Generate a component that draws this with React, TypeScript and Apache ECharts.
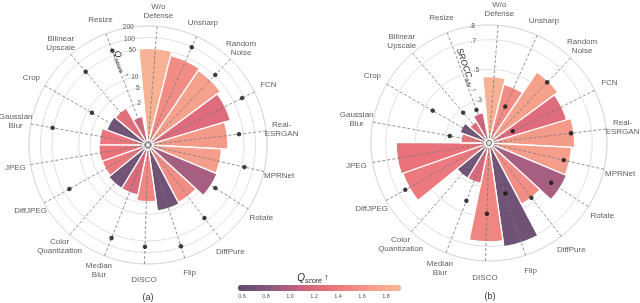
import React, { useEffect, useRef } from 'react';
import * as echarts from 'echarts';

const categories = [
  'W/o\nDefense', 'Unsharp', 'Random\nNoise', 'FCN', 'Real-\nESRGAN', 'MPRNet', 'Rotate',
  'DiffPure', 'Flip', 'DISCO', 'Median\nBlur', 'Color\nQuantization', 'DiffJPEG', 'JPEG',
  'Gaussian\nBlur', 'Crop', 'Bilinear\nUpscale', 'Resize',
];
const qScore = [1.85, 1.55, 1.7, 1.25, 1.65, 1.68, 0.95, 1.55, 0.68, 1.5, 1.22, 0.7, 1.4, 1.35, 1.38, 0.68, 1.3, 1.15];

const barA = [52, 40, 35, 27.6, 19, 13, 14, 7.8, 8.5, 4.7, 3.35, 3.3, 2.9, 3.0, 2.9, 2.2, 2.05, 1.37];
const dotA: (number | null)[] = [null, 98, 53.7, 86.9, 38.5, 59.7, 19.1, 40, 94, 71, 63.5, null, 35, null, 53, 7.6, 50.5, 67];
const barB = [0.45, 0.41, 0.58, 0.55, 0.58, 0.56, 0.57, 0.47, 0.71, 0.67, 0.28, 0.28, 0.62, 0.63, 0.19, 0.21, 0.17, 0.21];
const dotB: (number | null)[] = [null, 0.27, 0.57, 0.18, 0.56, 0.52, 0.5, 0.47, 0.36, 0.48, 0.42, null, 0.65, null, 0.27, 0.44, 0.27, 0.24];

const ticksA = [1, 2, 5, 10, 50, 100, 200];
const ticksB = [0.3, 0.5, 0.7, 0.8];
const colorbarTicks = [0.6, 0.8, 1.0, 1.2, 1.4, 1.6, 1.8];
const qRange = [0.567, 1.925];
const cmap = ['#5b4d6f', '#7d557a', '#a95e80', '#d2667d', '#e9717b', '#f28b84', '#f5a58d', '#f8b898'];

const LIN_T = 2;
const LIN_S = 1 / (1 - 1 / 10);
const symlog = (v: number) => (v <= LIN_T ? v * LIN_S : LIN_T * (LIN_S + Math.log10(v / LIN_T)));

const FONT = '"Liberation Sans", Arial, sans-serif';
const START = 95.45;
const SPAN = 354.6;

export default function App() {
  const ref = useRef<HTMLDivElement>(null);
  useEffect(() => {
    const chart = echarts.init(ref.current!, null, { renderer: 'svg' });
    const maxA = symlog(ticksA[ticksA.length - 1]);
    const maxB = ticksB[ticksB.length - 1];
    const labelRA = (maxA * 134.5) / 119;
    const labelRB = (maxB * 134.5) / 118;
    const fmtA = (v: number) => {
      const t = ticksA.find((t) => Math.abs(symlog(t) - v) < 1e-6);
      return t === undefined ? '' : String(t);
    };
    const fmtB = (v: number) => v.toFixed(1).replace(/^0/, '');

    const fgAngle = (i: number) => ({
      polarIndex: i, type: 'category', data: categories, startAngle: START, endAngle: START - SPAN,
      clockwise: true, boundaryGap: true, axisLine: { show: false },
      axisTick: { show: false, alignWithLabel: true }, axisLabel: { show: false },
      splitLine: { show: true, lineStyle: { color: '#787878', width: 0.8, type: [3, 2] } }, z: 10,
    });
    const bgAngle = (i: number) => ({
      polarIndex: i, type: 'value', min: 0, max: 360, startAngle: START, clockwise: true,
      axisLine: { show: true, lineStyle: { color: '#d8d8d8', width: 0.8 } },
      axisTick: { show: false }, axisLabel: { show: false }, splitLine: { show: false }, z: 0,
    });
    const bgRadius = (i: number, max: number, ticks: number[], fmt: (v: number) => string) => ({
      polarIndex: i, type: 'value', min: 0, max,
      axisLine: { show: false }, axisTick: { show: false, customValues: ticks },
      axisLabel: { customValues: ticks, formatter: fmt, fontSize: 6.5, color: '#555', margin: 3, fontFamily: FONT },
      splitLine: { show: true, lineStyle: { color: '#d8d8d8', width: 0.8 } }, z: 0,
    });
    const barSeries = (p: number, vals: number[], tf: (v: number) => number) => ({
      type: 'bar', coordinateSystem: 'polar', polarIndex: p,
      data: vals.map((v, i) => [tf(v), i, qScore[i]]), encode: { radius: 0, angle: 1 },
      barCategoryGap: '0%', itemStyle: { borderColor: '#ffffff', borderWidth: 1.3 }, z: 2, silent: true,
    });
    const dotSeries = (p: number, vals: (number | null)[], tf: (v: number) => number) => ({
      type: 'scatter', coordinateSystem: 'polar', polarIndex: p,
      data: vals.flatMap((v, i) => (v == null ? [] : [[tf(v), i]])), encode: { radius: 0, angle: 1 },
      symbolSize: 4.5, itemStyle: { color: '#111' }, z: 12, silent: true, clip: false,
    });
    const centerSeries = (p: number) => ({
      type: 'scatter', coordinateSystem: 'polar', polarIndex: p, data: [[0, 0]], encode: { radius: 0, angle: 1 },
      symbolSize: 5, itemStyle: { color: '#ffffff', borderColor: '#555', borderWidth: 1 }, z: 13, silent: true, clip: false,
    });
    const labelSeries = (p: number, r: number) => ({
      type: 'scatter', coordinateSystem: 'polar', polarIndex: p,
      data: categories.map((c, i) => [r, i]), encode: { radius: 0, angle: 1 }, symbolSize: 0, clip: false, silent: true,
      itemStyle: { color: '#333' },
      label: { show: true, position: 'inside', formatter: (q: any) => categories[q.dataIndex], fontSize: 8, lineHeight: 9, color: '#333', textBorderWidth: 0, fontFamily: FONT },
    });
    const titleRich = (main: string, sub: string, size: number) => ({
      text: `{q|${main}}{s|${sub}}{a| ↑}`,
      rich: {
        q: { fontSize: size, fontStyle: 'italic', lineHeight: size + 3, verticalAlign: 'middle', fontFamily: FONT, fill: '#222' },
        s: { fontSize: size * 0.68, fontStyle: 'italic', lineHeight: size * 0.5, verticalAlign: 'bottom', fontFamily: FONT, fill: '#222' },
        a: { fontSize: size * 0.9, lineHeight: size + 3, verticalAlign: 'middle', fontFamily: FONT, fill: '#222' },
      },
      align: 'center', verticalAlign: 'middle',
    });

    chart.setOption({
      animation: false,
      textStyle: { fontFamily: FONT },
      polar: [
        { center: [148, 145], radius: [0, 119] },
        { center: [489, 143], radius: [0, 118] },
        { center: [148, 145], radius: [0, 119] },
        { center: [489, 143], radius: [0, 118] },
      ],
      angleAxis: [fgAngle(0), fgAngle(1), bgAngle(2), bgAngle(3)],
      radiusAxis: [
        { polarIndex: 0, type: 'value', min: 0, max: maxA, show: false },
        { polarIndex: 1, type: 'value', min: 0, max: maxB, show: false },
        bgRadius(2, maxA, ticksA.map(symlog), fmtA),
        bgRadius(3, maxB, ticksB, fmtB),
      ],
      grid: { left: 238, top: 285, width: 163, height: 6, show: false },
      xAxis: {
        type: 'value', min: qRange[0], max: qRange[1],
        axisLine: { show: false }, axisTick: { show: false, customValues: colorbarTicks },
        axisLabel: { customValues: colorbarTicks, formatter: (v: number) => v.toFixed(1), fontSize: 5.5, color: '#555', margin: 1.5, fontFamily: FONT },
        splitLine: { show: false },
      },
      yAxis: { type: 'value', show: false, min: 0, max: 1 },
      visualMap: {
        type: 'continuous', min: qRange[0], max: qRange[1], dimension: 2, seriesIndex: [0, 4],
        orient: 'horizontal', left: 238, top: 285, itemWidth: 6, itemHeight: 163, padding: 0,
        calculable: false, text: null, showLabel: false, inRange: { color: cmap },
      },
      series: [
        barSeries(0, barA, symlog),
        dotSeries(0, dotA, symlog),
        centerSeries(0),
        labelSeries(0, labelRA),
        barSeries(1, barB, (v) => v),
        dotSeries(1, dotB, (v) => v),
        centerSeries(1),
        labelSeries(1, labelRB),
        { type: 'line', data: [], xAxisIndex: 0, yAxisIndex: 0 },
      ],
      graphic: [
        { type: 'text', x: 122, y: 64, rotation: (-68.6 * Math.PI) / 180, style: titleRich('Q', 'score', 9), z: 20 },
        { type: 'text', x: 467, y: 70, rotation: (-71 * Math.PI) / 180, style: titleRich('SROCC', 'adv', 8.5), z: 20 },
        { type: 'text', x: 313, y: 277, style: titleRich('Q', 'score', 10), z: 20 },
        { type: 'text', x: 148, y: 297, style: { text: '(a)', fontSize: 9, fontFamily: FONT, fill: '#333', align: 'center', verticalAlign: 'middle' } },
        { type: 'text', x: 490, y: 296, style: { text: '(b)', fontSize: 9, fontFamily: FONT, fill: '#333', align: 'center', verticalAlign: 'middle' } },
      ],
    });
    return () => chart.dispose();
  }, []);
  return <div ref={ref} style={{ position: 'fixed', left: 0, top: 0, width: 640, height: 303, background: '#fff', willChange: 'transform' }} />;
}
